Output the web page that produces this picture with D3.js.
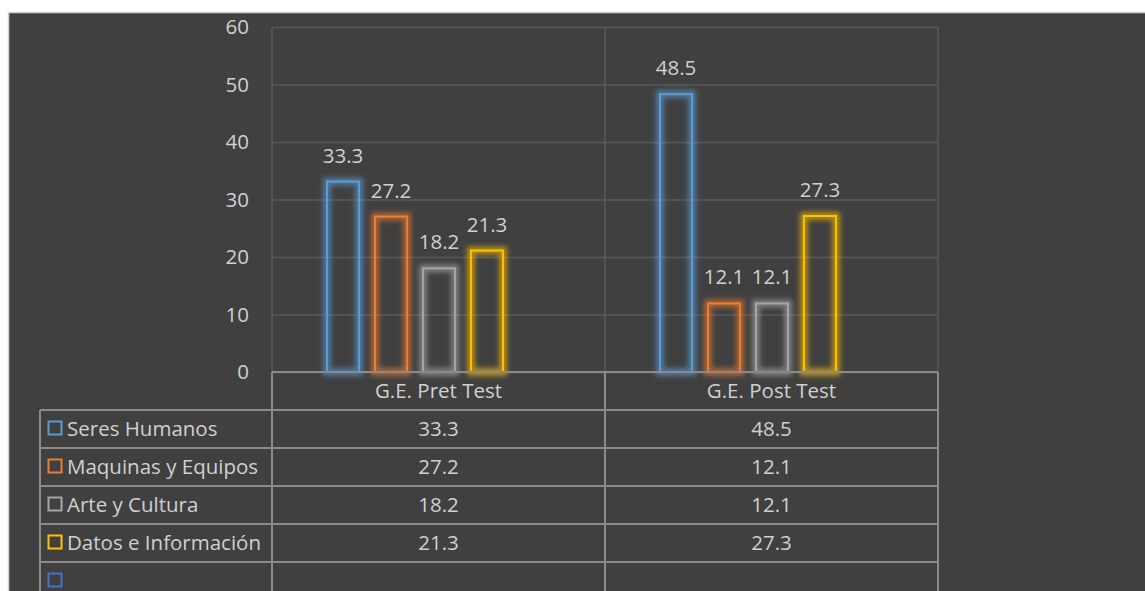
<!DOCTYPE html>
<html>
<head>
<meta charset="utf-8">
<script src="https://cdn.jsdelivr.net/npm/d3@7"></script>
<style>
  html, body { margin: 0; padding: 0; background: #ffffff; overflow: hidden; }
  svg { display: block; }
  text { font-family: "Open Sans", "Noto Sans", sans-serif; fill: #d0d0d0; }
</style>
</head>
<body>
<svg id="chart" width="1145" height="591"></svg>
<script>
const categories = ["G.E. Pret Test", "G.E. Post Test"];
const seriesNames = ["Seres Humanos", "Maquinas y Equipos", "Arte y Cultura", "Datos e Información", ""];
const seriesColors = ["#5B9BD5", "#ED7D31", "#A5A5A5", "#FFC000", "#4472C4"];
const valuesSeresHumanos = [33.3, 48.5];
const valuesMaquinas = [27.2, 12.1];
const valuesArte = [18.2, 12.1];
const valuesDatos = [21.3, 27.3];
const valuesEmpty = [null, null];
const yTicks = [0, 10, 20, 30, 40, 50, 60];

const seriesValues = [valuesSeresHumanos, valuesMaquinas, valuesArte, valuesDatos, valuesEmpty];

const svg = d3.select("#chart");
const W = 1145, H = 591;
const FS = 20.5;

// outer chart area
svg.append("rect").attr("x", 8.5).attr("y", 12.5).attr("width", W).attr("height", H)
  .attr("fill", "#404040").attr("stroke", "#d4d4d4").attr("stroke-width", 1.5);

const plot = { left: 272, right: 938, top: 27, bottom: 372 };
const tableLeft = 40;
const rowH = 38;

const x0 = d3.scaleBand().domain(categories).range([plot.left, plot.right]).padding(0);
const x1 = d3.scaleBand().domain(d3.range(seriesNames.length))
  .range([54, x0.bandwidth() - 53]).paddingInner(0.29).paddingOuter(0);
const y = d3.scaleLinear().domain([0, 60]).range([plot.bottom, plot.top]);

// glow filters
const defs = svg.append("defs");
seriesColors.forEach((c, i) => {
  const f = defs.append("filter").attr("id", "glow" + i)
    .attr("x", "-50%").attr("y", "-50%").attr("width", "200%").attr("height", "200%");
  f.append("feMorphology").attr("in", "SourceGraphic").attr("operator", "dilate").attr("radius", 2.5).attr("result", "d");
  f.append("feGaussianBlur").attr("in", "d").attr("stdDeviation", 2.5).attr("result", "b");
  f.append("feComponentTransfer").attr("in", "b").attr("result", "b2")
    .append("feFuncA").attr("type", "linear").attr("slope", 0.6);
  const m = f.append("feMerge");
  m.append("feMergeNode").attr("in", "b2");
  m.append("feMergeNode").attr("in", "SourceGraphic");
});

// gridlines
const yAxisGrid = d3.axisLeft(y).tickValues(yTicks).tickSize(-(plot.right - plot.left)).tickFormat("");
const gGrid = svg.append("g").attr("transform", `translate(${plot.left},0)`).call(yAxisGrid);
gGrid.select(".domain").remove();
gGrid.selectAll("line").attr("stroke", "#585858").attr("stroke-width", 1.5);

// vertical plot separators
const vLines = [plot.left, ...categories.map(c => x0(c) + x0.bandwidth())];
svg.append("g").selectAll("line").data(vLines).join("line")
  .attr("x1", d => d).attr("x2", d => d).attr("y1", plot.top).attr("y2", plot.bottom)
  .attr("stroke", "#585858").attr("stroke-width", 1.5);

// y axis labels
const yAxis = d3.axisLeft(y).tickValues(yTicks).tickSize(0).tickPadding(0);
const gY = svg.append("g").attr("transform", `translate(249,0)`).call(yAxis);
gY.select(".domain").remove();
gY.selectAll("text").attr("font-size", FS).attr("fill", "#d0d0d0")
  .style("font-family", '"Open Sans", sans-serif');

// bars
const barData = [];
categories.forEach((c, ci) => {
  seriesValues.forEach((vals, si) => {
    if (vals[ci] != null) barData.push({ c, si, v: vals[ci] });
  });
});
const bw = x1.bandwidth();
svg.append("g").selectAll("rect").data(barData).join("rect")
  .attr("x", d => x0(d.c) + x1(d.si) + 1)
  .attr("y", d => y(d.v) + 1)
  .attr("width", bw - 2)
  .attr("height", d => y(0) - y(d.v) - 1)
  .attr("fill", "none")
  .attr("stroke", d => seriesColors[d.si])
  .attr("stroke-width", 2)
  .attr("filter", d => `url(#glow${d.si})`);

// value labels
svg.append("g").selectAll("text").data(barData).join("text")
  .attr("x", d => x0(d.c) + x1(d.si) + bw / 2)
  .attr("y", d => y(d.v) - 18)
  .attr("text-anchor", "middle")
  .attr("font-size", FS)
  .text(d => d.v.toFixed(1));

// data table
const tbl = svg.append("g");
const lineCol = "#8a8a8a";
tbl.append("line").attr("x1", plot.left).attr("x2", plot.right).attr("y1", plot.bottom).attr("y2", plot.bottom)
  .attr("stroke", lineCol).attr("stroke-width", 2);
const rowYs = d3.range(seriesNames.length + 1).map(i => plot.bottom + rowH * (i + 1));
tbl.selectAll("line.row").data(rowYs).join("line").attr("class", "row")
  .attr("x1", tableLeft).attr("x2", plot.right).attr("y1", d => d).attr("y2", d => d)
  .attr("stroke", lineCol).attr("stroke-width", 2);
tbl.selectAll("line.col").data(vLines).join("line").attr("class", "col")
  .attr("x1", d => d).attr("x2", d => d).attr("y1", plot.bottom).attr("y2", H + 10)
  .attr("stroke", lineCol).attr("stroke-width", 2);
tbl.append("line").attr("x1", tableLeft).attr("x2", tableLeft).attr("y1", plot.bottom + rowH).attr("y2", H + 10)
  .attr("stroke", lineCol).attr("stroke-width", 2);

tbl.selectAll("text.cat").data(categories).join("text").attr("class", "cat")
  .attr("x", d => x0(d) + x0.bandwidth() / 2)
  .attr("y", plot.bottom + rowH / 2)
  .attr("dy", "0.35em").attr("text-anchor", "middle").attr("font-size", FS)
  .text(d => d);

seriesNames.forEach((name, si) => {
  const yc = plot.bottom + rowH * (si + 1) + rowH / 2;
  tbl.append("rect").attr("x", 48.5).attr("y", yc - 7.5).attr("width", 13).attr("height", 13)
    .attr("fill", "none").attr("stroke", seriesColors[si]).attr("stroke-width", 2);
  tbl.append("text").attr("x", 67).attr("y", yc).attr("dy", "0.35em").attr("font-size", FS).text(name);
  categories.forEach((c, ci) => {
    const v = seriesValues[si][ci];
    if (v != null) {
      tbl.append("text").attr("x", x0(c) + x0.bandwidth() / 2).attr("y", yc).attr("dy", "0.35em")
        .attr("text-anchor", "middle").attr("font-size", FS).text(v.toFixed(1));
    }
  });
});
</script>
</body>
</html>
